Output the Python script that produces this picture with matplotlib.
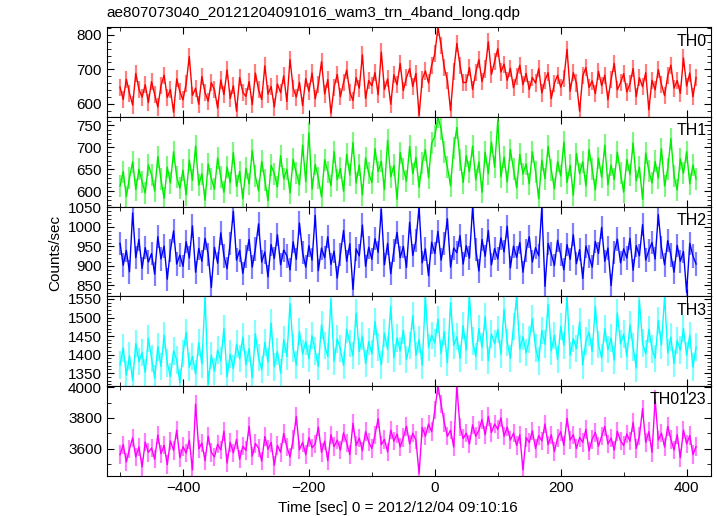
import numpy as np
import matplotlib
matplotlib.use('Agg')
import matplotlib.pyplot as plt
from matplotlib.ticker import MultipleLocator

plt.rcParams['font.family'] = ['Liberation Sans', 'DejaVu Sans']
plt.rcParams['font.size'] = 11

# light curve, 5 s samples from -500 s to 415 s
t_start = -500
t_step = 5

th0 = [648, 612, 671, 630, 596, 688, 642, 619, 655, 603,
       664, 627, 590, 652, 683, 618, 641, 575, 672, 635,
       611, 658, 737, 624, 645, 598, 679, 632, 607, 661,
       640, 587, 669, 626, 698, 615, 652, 578, 676, 633,
       621, 664, 597, 689, 640, 612, 710, 628, 650, 590,
       657, 632, 681, 606, 728, 645, 619, 662, 594, 673,
       636, 689, 614, 655, 722, 628, 670, 572, 648, 685,
       620, 661, 698, 633, 609, 676, 645, 742, 615, 667,
       652, 690, 626, 750, 641, 672, 598, 684, 655, 717,
       638, 676, 702, 650, 688, 566, 671, 695, 660, 712,
       745, 822, 770, 705, 668, 580, 693, 775, 712, 661,
       662, 705, 641, 690, 728, 664, 701, 780, 685, 722,
       760, 692, 715, 668, 703, 646, 679, 712, 655, 688,
       641, 676, 660, 702, 631, 668, 690, 615, 659, 683,
       648, 672, 758, 636, 690, 660, 578, 681, 705, 647,
       666, 629, 694, 652, 683, 611, 670, 717, 640, 661,
       687, 634, 658, 702, 620, 675, 649, 690, 582, 668,
       640, 699, 656, 623, 681, 712, 645, 667, 630, 733,
       651, 689, 620, 676]

th1 = [612, 645, 588, 631, 667, 604, 650, 622, 596, 660,
       638, 601, 679, 627, 584, 655, 619, 690, 633, 607,
       648, 592, 671, 625, 703, 614, 640, 580, 662, 629,
       605, 676, 633, 598, 655, 620, 688, 611, 645, 583,
       652, 617, 693, 634, 601, 668, 626, 579, 659, 640,
       610, 681, 628, 650, 596, 673, 641, 615, 705, 622,
       733, 605, 661, 630, 587, 672, 644, 613, 690, 626,
       652, 600, 684, 637, 711, 619, 660, 592, 676, 641,
       620, 697, 645, 668, 604, 716, 633, 659, 582, 688,
       651, 623, 702, 640, 677, 609, 664, 695, 631, 710,
       725, 769, 742, 690, 655, 612, 699, 745, 672, 620,
       681, 645, 703, 626, 667, 598, 689, 640, 712, 655,
       760, 633, 678, 621, 695, 650, 608, 684, 639, 662,
       617, 690, 645, 583, 671, 629, 702, 648, 606, 668,
       635, 712, 620, 659, 591, 686, 640, 667, 612, 695,
       650, 603, 676, 632, 705, 615, 660, 627, 689, 641,
       598, 672, 638, 710, 624, 655, 582, 687, 646, 619,
       668, 630, 697, 612, 651, 720, 635, 603, 674, 641,
       690, 617, 660, 628]

th2 = [958, 902, 940, 885, 1036, 921, 968, 894, 947, 910,
       932, 879, 975, 918, 951, 866, 940, 990, 905, 928,
       899, 962, 920, 1003, 884, 945, 912, 971, 930, 845,
       948, 907, 985, 926, 893, 958, 1040, 915, 940, 881,
       925, 968, 897, 944, 1008, 910, 936, 872, 955, 919,
       980, 903, 941, 926, 890, 962, 917, 1010, 934, 897,
       952, 915, 1030, 888, 946, 921, 975, 904, 938, 869,
       930, 991, 912, 957, 840, 944, 926, 1005, 899, 948,
       917, 970, 935, 1045, 903, 958, 880, 940, 986, 921,
       950, 896, 1012, 927, 965, 1050, 908, 944, 875, 961,
       932, 989, 915, 958, 1021, 897, 946, 934, 978, 905,
       952, 920, 1050, 943, 887, 968, 925, 991, 903, 945,
       918, 972, 936, 1002, 895, 951, 922, 960, 884, 939,
       975, 910, 947, 926, 1050, 848, 958, 931, 901, 966,
       929, 890, 955, 917, 980, 906, 942, 868, 951, 924,
       897, 963, 932, 999, 912, 946, 850, 935, 969, 908,
       944, 920, 971, 889, 952, 926, 1006, 915, 940, 960,
       918, 1032, 947, 903, 965, 928, 884, 953, 912, 937,
       832, 958, 926, 905]

th3 = [1372, 1418, 1345, 1396, 1330, 1430, 1381, 1405, 1352, 1444,
       1390, 1336, 1421, 1368, 1452, 1377, 1341, 1410, 1385, 1324,
       1403, 1460, 1366, 1395, 1348, 1432, 1375, 1557, 1320, 1398,
       1355, 1412, 1383, 1470, 1340, 1401, 1362, 1428, 1389, 1447,
       1373, 1416, 1338, 1456, 1392, 1359, 1433, 1380, 1485, 1367,
       1408, 1350, 1440, 1395, 1537, 1418, 1372, 1462, 1401, 1436,
       1389, 1451, 1410, 1368, 1480, 1425, 1395, 1548, 1382, 1442,
       1416, 1371, 1468, 1430, 1397, 1512, 1408, 1450, 1376, 1435,
       1402, 1489, 1420, 1372, 1458, 1414, 1530, 1391, 1445, 1410,
       1466, 1387, 1425, 1505, 1398, 1440, 1372, 1557, 1419, 1452,
       1431, 1495, 1403, 1462, 1378, 1540, 1425, 1448, 1390, 1478,
       1412, 1557, 1437, 1395, 1470, 1420, 1502, 1384, 1455, 1429,
       1468, 1401, 1522, 1433, 1390, 1476, 1557, 1415, 1448, 1405,
       1440, 1497, 1418, 1383, 1465, 1428, 1535, 1410, 1452, 1387,
       1476, 1425, 1557, 1398, 1443, 1416, 1488, 1372, 1437, 1460,
       1408, 1530, 1427, 1391, 1470, 1413, 1445, 1385, 1512, 1429,
       1455, 1395, 1480, 1420, 1364, 1546, 1431, 1402, 1468, 1415,
       1390, 1492, 1426, 1557, 1405, 1447, 1376, 1438, 1412, 1470,
       1398, 1452, 1366, 1420]

th0123 = [3560, 3625, 3512, 3598, 3670, 3545, 3610, 3480, 3642, 3575,
          3603, 3530, 3688, 3566, 3621, 3495, 3650, 3588, 3720, 3540,
          3612, 3570, 3655, 3460, 3890, 3598, 3635, 3520, 3680, 3575,
          3545, 3628, 3590, 3712, 3505, 3640, 3572, 3660, 3530, 3615,
          3588, 3745, 3550, 3632, 3602, 3518, 3678, 3595, 3640, 3490,
          3620, 3575, 3698, 3610, 3545, 3660, 3810, 3592, 3640, 3560,
          3672, 3605, 3630, 3740, 3575, 3648, 3520, 3690, 3612, 3655,
          3590, 3702, 3638, 3560, 3765, 3620, 3668, 3585, 3710, 3642,
          3600, 3688, 3795, 3625, 3660, 3578, 3720, 3648, 3695, 3610,
          3672, 3745, 3630, 3700, 3655, 3438, 3738, 3680, 3760, 3710,
          3850, 4008, 3890, 3770, 3680, 3720, 3610, 4008, 3740, 3665,
          3700, 3630, 3755, 3680, 3720, 3790, 3690, 3810, 3705, 3760,
          3725, 3800, 3680, 3740, 3655, 3700, 3620, 3690, 3460, 3672,
          3640, 3715, 3600, 3685, 3650, 3760, 3625, 3690, 3580, 3668,
          3710, 3620, 3798, 3655, 3690, 3600, 3672, 3640, 3725, 3585,
          3660, 3705, 3615, 3680, 3745, 3630, 3668, 3590, 3712, 3650,
          3620, 3695, 3648, 3770, 3600, 3682, 3860, 3640, 3710, 3575,
          3920, 3655, 3700, 3610, 3745, 3660, 3590, 3690, 3540, 3720,
          3630, 3685, 3560, 3612]

names = ['TH0', 'TH1', 'TH2', 'TH3', 'TH0123']
errs = [25, 25, 30, 37, 60]
colors = ['#ff0000', '#00ee00', '#0000ff', '#00ffff', '#ff00ff']
ylims = [(561, 822), (565, 769), (822, 1052), (1315, 1557), (3422, 4008)]
ymajor = [100, 50, 50, 50, 200]
yminor = [20, 10, 10, 10, 100]
series = [th0, th1, th2, th3, th0123]

fig, axes = plt.subplots(5, 1, sharex=True, figsize=(7.17, 5.16), dpi=100)
fig.subplots_adjust(left=0.149, right=0.991, top=0.947, bottom=0.078, hspace=0)

for ax, y, name, e, c, yl, mj, mn in zip(axes, series, names, errs, colors, ylims, ymajor, yminor):
    y = np.array(y)
    t = t_start + t_step * np.arange(len(y))
    ax.errorbar(t, y, yerr=e, fmt='none', ecolor=c, alpha=0.5, elinewidth=1.6)
    ax.plot(t, y, color=c, lw=1.0)
    ax.set_ylim(yl)
    ax.set_xlim(-521, 438)
    ax.yaxis.set_major_locator(MultipleLocator(mj))
    ax.yaxis.set_minor_locator(MultipleLocator(mn))
    ax.xaxis.set_major_locator(MultipleLocator(200))
    ax.xaxis.set_minor_locator(MultipleLocator(100))
    ax.tick_params(which='both', direction='in', top=True, right=True, labelsize=11)
    ax.tick_params(which='major', length=5)
    ax.tick_params(which='minor', length=3)
    ax.text(0.993, 0.93, name, transform=ax.transAxes, ha='right', va='top', fontsize=11.5)

fig.text(0.555, 0.016, 'Time [sec] 0 = 2012/12/04 09:10:16', ha='center', va='center', fontsize=11)
fig.text(0.077, 0.51, 'Counts/sec', rotation=90, ha='center', va='center', fontsize=11)
fig.text(0.149, 0.975, 'ae807073040_20121204091016_wam3_trn_4band_long.qdp',
         ha='left', va='center', fontsize=11)

plt.savefig('out.png', dpi=100)
